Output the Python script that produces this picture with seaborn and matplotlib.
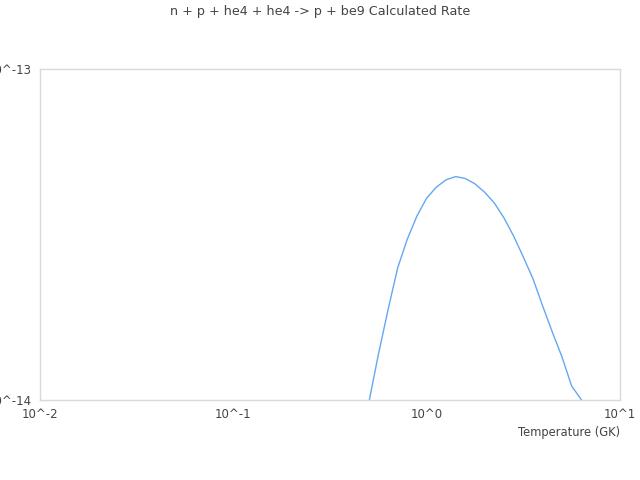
import matplotlib
matplotlib.use('Agg')
import matplotlib.pyplot as plt
import seaborn as sns
import pandas as pd
import numpy as np

# Temperature grid (GK), 20 points per decade
temperature = [0.501, 0.562, 0.631, 0.708, 0.794, 0.891, 1.0, 1.122, 1.259, 1.413,
               1.585, 1.778, 2.0, 2.239, 2.512, 2.818, 3.162, 3.548, 3.981, 4.467,
               5.012, 5.623, 6.310, 7.079]

# log10 of the calculated rate
log_rate = [-14.011, -13.864, -13.728, -13.601, -13.514, -13.444, -13.390, -13.357,
            -13.335, -13.325, -13.331, -13.347, -13.373, -13.405, -13.450, -13.505,
            -13.568, -13.634, -13.716, -13.795, -13.870, -13.958, -13.999, -14.12]

x_ticks = [0.01, 0.1, 1, 10]
x_tick_labels = ['10^-2', '10^-1', '10^0', '10^1']
y_ticks = [1e-14, 1e-13]
y_tick_labels = ['10^-14', '10^-13']

df = pd.DataFrame({'T': temperature, 'rate': np.power(10.0, log_rate)})

sns.set_style('white')
plt.rcParams['font.family'] = ['DejaVu Sans']

fig = plt.figure(figsize=(6.4, 4.8), dpi=100)
ax = fig.add_axes([0.0625, 0.1667, 0.90625, 0.6896])

sns.lineplot(data=df, x='T', y='rate', ax=ax, color='#63a8f2', linewidth=1.0)

ax.set_xscale('log')
ax.set_yscale('log')
ax.set_xlim(0.01, 10)
ax.set_ylim(1e-14, 1e-13)

text_color = '#444444'
ax.set_xticks(x_ticks)
ax.set_xticklabels(x_tick_labels, fontsize=8.5, color=text_color)
ax.set_yticks(y_ticks)
ax.set_yticklabels(y_tick_labels, fontsize=8.5, color=text_color)
ax.minorticks_off()
ax.tick_params(axis='x', length=0, pad=6)
ax.tick_params(axis='y', length=0, pad=6)

for spine in ax.spines.values():
    spine.set_color('#d9d9d9')
    spine.set_linewidth(1.0)

ax.set_xlabel('Temperature (GK)', fontsize=8.3, color=text_color)
ax.xaxis.set_label_coords(1.0, -0.08)
ax.xaxis.label.set_horizontalalignment('right')
ax.set_ylabel('')

fig.text(0.5, 0.975, 'n + p + he4 + he4 -> p + be9 Calculated Rate',
         ha='center', va='center', fontsize=9.2, color=text_color)

fig.savefig('out.png', dpi=100)
